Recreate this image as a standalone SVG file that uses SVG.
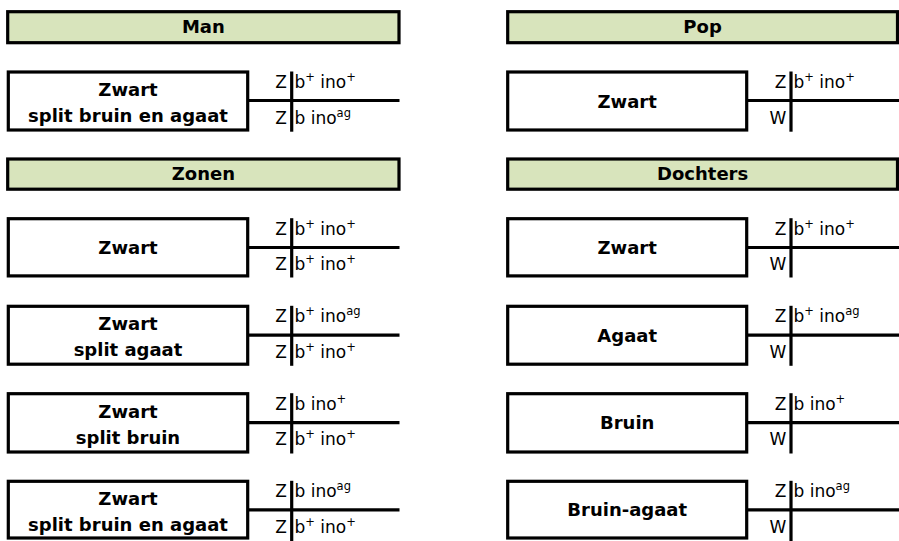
<svg xmlns="http://www.w3.org/2000/svg" width="899" height="541" viewBox="0 0 899 541">
<style>
.hdr{fill:#D8E4BC;stroke:#000;stroke-width:3.2}
.box{fill:#fff;stroke:#000;stroke-width:3.2}
.ln{stroke:#000;stroke-width:3.2;fill:none}
.b{font-family:"DejaVu Sans","Liberation Sans",sans-serif;font-weight:bold;font-size:18px;text-anchor:middle;fill:#000}
.g{font-family:"DejaVu Sans","Liberation Sans",sans-serif;font-size:17px;fill:#000}
.e{text-anchor:end}
.s{font-size:11.5px}
</style>
<rect width="899" height="541" fill="#fff"/>
<g id="connectors">
<line class="ln" x1="247.7" y1="100.5" x2="399.5" y2="100.5"/>
<line class="ln" x1="746.7" y1="100.5" x2="899" y2="100.5"/>
<line class="ln" x1="247.7" y1="247.5" x2="399.5" y2="247.5"/>
<line class="ln" x1="746.7" y1="247.5" x2="899" y2="247.5"/>
<line class="ln" x1="247.7" y1="335.2" x2="399.5" y2="335.2"/>
<line class="ln" x1="746.7" y1="335.2" x2="899" y2="335.2"/>
<line class="ln" x1="247.7" y1="422.7" x2="399.5" y2="422.7"/>
<line class="ln" x1="746.7" y1="422.7" x2="899" y2="422.7"/>
<line class="ln" x1="247.7" y1="509.8" x2="399.5" y2="509.8"/>
<line class="ln" x1="746.7" y1="509.8" x2="899" y2="509.8"/>
</g>
<g id="hdr-man"><rect class="hdr" x="7.7" y="11.7" width="391.3" height="31"/><text class="b" x="203.4" y="33.3">Man</text></g>
<g id="hdr-pop"><rect class="hdr" x="507.7" y="11.7" width="389.8" height="31"/><text class="b" x="702.6" y="33.3">Pop</text></g>
<g id="hdr-zonen"><rect class="hdr" x="7.7" y="159" width="391.3" height="30.2"/><text class="b" x="203.4" y="180.2">Zonen</text></g>
<g id="hdr-dochters"><rect class="hdr" x="507.7" y="159" width="389.8" height="30.2"/><text class="b" x="702.6" y="180.2">Dochters</text></g>

<g id="man">
<rect class="box" x="8.3" y="72" width="239.4" height="58"/>
<text class="b" x="128" y="96">Zwart</text><text class="b" x="128" y="122">split bruin en agaat</text>
<line class="ln" x1="291.7" y1="71.5" x2="291.7" y2="131.7"/>
<text class="g e" x="287" y="88">Z</text><text class="g" x="294.5" y="88">b<tspan class="s" dy="-7">+</tspan><tspan dy="7"> ino</tspan><tspan class="s" dy="-7">+</tspan></text>
<text class="g e" x="287" y="123.5">Z</text><text class="g" x="294.5" y="123.5">b ino<tspan class="s" dy="-7">ag</tspan></text>
</g>
<g id="pop">
<rect class="box" x="507.7" y="72" width="239" height="58"/>
<text class="b" x="627.2" y="107.5">Zwart</text>
<line class="ln" x1="791" y1="71.5" x2="791" y2="131.7"/>
<text class="g e" x="786.3" y="88">Z</text><text class="g" x="793.5" y="88">b<tspan class="s" dy="-7">+</tspan><tspan dy="7"> ino</tspan><tspan class="s" dy="-7">+</tspan></text>
<text class="g e" x="786.3" y="123.5">W</text>
</g>

<g id="zoon1">
<rect class="box" x="8.3" y="218.7" width="239.4" height="57.2"/>
<text class="b" x="128" y="254">Zwart</text>
<line class="ln" x1="291.7" y1="218.2" x2="291.7" y2="277.5"/>
<text class="g e" x="287" y="234.7">Z</text><text class="g" x="294.5" y="234.7">b<tspan class="s" dy="-7">+</tspan><tspan dy="7"> ino</tspan><tspan class="s" dy="-7">+</tspan></text>
<text class="g e" x="287" y="270.2">Z</text><text class="g" x="294.5" y="270.2">b<tspan class="s" dy="-7">+</tspan><tspan dy="7"> ino</tspan><tspan class="s" dy="-7">+</tspan></text>
</g>
<g id="dochter1">
<rect class="box" x="507.7" y="218.7" width="239" height="57.2"/>
<text class="b" x="627.2" y="254">Zwart</text>
<line class="ln" x1="791" y1="218.2" x2="791" y2="277.5"/>
<text class="g e" x="786.3" y="234.7">Z</text><text class="g" x="793.5" y="234.7">b<tspan class="s" dy="-7">+</tspan><tspan dy="7"> ino</tspan><tspan class="s" dy="-7">+</tspan></text>
<text class="g e" x="786.3" y="270.2">W</text>
</g>

<g id="zoon2">
<rect class="box" x="8.3" y="306.3" width="239.4" height="57.9"/>
<text class="b" x="128" y="330">Zwart</text><text class="b" x="128" y="356">split agaat</text>
<line class="ln" x1="291.7" y1="305.8" x2="291.7" y2="365.8"/>
<text class="g e" x="287" y="322.3">Z</text><text class="g" x="294.5" y="322.3">b<tspan class="s" dy="-7">+</tspan><tspan dy="7"> ino</tspan><tspan class="s" dy="-7">ag</tspan></text>
<text class="g e" x="287" y="357.8">Z</text><text class="g" x="294.5" y="357.8">b<tspan class="s" dy="-7">+</tspan><tspan dy="7"> ino</tspan><tspan class="s" dy="-7">+</tspan></text>
</g>
<g id="dochter2">
<rect class="box" x="507.7" y="306.3" width="239" height="57.9"/>
<text class="b" x="627.2" y="341.8">Agaat</text>
<line class="ln" x1="791" y1="305.8" x2="791" y2="365.8"/>
<text class="g e" x="786.3" y="322.3">Z</text><text class="g" x="793.5" y="322.3">b<tspan class="s" dy="-7">+</tspan><tspan dy="7"> ino</tspan><tspan class="s" dy="-7">ag</tspan></text>
<text class="g e" x="786.3" y="357.8">W</text>
</g>

<g id="zoon3">
<rect class="box" x="8.3" y="393.7" width="239.4" height="58.3"/>
<text class="b" x="128" y="417.5">Zwart</text><text class="b" x="128" y="443.5">split bruin</text>
<line class="ln" x1="291.7" y1="393.2" x2="291.7" y2="453.5"/>
<text class="g e" x="287" y="409.8">Z</text><text class="g" x="294.5" y="409.8">b ino<tspan class="s" dy="-7">+</tspan></text>
<text class="g e" x="287" y="445.3">Z</text><text class="g" x="294.5" y="445.3">b<tspan class="s" dy="-7">+</tspan><tspan dy="7"> ino</tspan><tspan class="s" dy="-7">+</tspan></text>
</g>
<g id="dochter3">
<rect class="box" x="507.7" y="393.7" width="239" height="58.3"/>
<text class="b" x="627.2" y="429.3">Bruin</text>
<line class="ln" x1="791" y1="393.2" x2="791" y2="453.5"/>
<text class="g e" x="786.3" y="409.8">Z</text><text class="g" x="793.5" y="409.8">b ino<tspan class="s" dy="-7">+</tspan></text>
<text class="g e" x="786.3" y="445.3">W</text>
</g>

<g id="zoon4">
<rect class="box" x="8.3" y="481.3" width="239.4" height="56.7"/>
<text class="b" x="128" y="504.5">Zwart</text><text class="b" x="128" y="530.5">split bruin en agaat</text>
<line class="ln" x1="291.7" y1="480.8" x2="291.7" y2="541"/>
<text class="g e" x="287" y="497.3">Z</text><text class="g" x="294.5" y="497.3">b ino<tspan class="s" dy="-7">ag</tspan></text>
<text class="g e" x="287" y="532.8">Z</text><text class="g" x="294.5" y="532.8">b<tspan class="s" dy="-7">+</tspan><tspan dy="7"> ino</tspan><tspan class="s" dy="-7">+</tspan></text>
</g>
<g id="dochter4">
<rect class="box" x="507.7" y="481.3" width="239" height="56.7"/>
<text class="b" x="627.2" y="516.3">Bruin-agaat</text>
<line class="ln" x1="791" y1="480.8" x2="791" y2="541"/>
<text class="g e" x="786.3" y="497.3">Z</text><text class="g" x="793.5" y="497.3">b ino<tspan class="s" dy="-7">ag</tspan></text>
<text class="g e" x="786.3" y="532.8">W</text>
</g>
</svg>
